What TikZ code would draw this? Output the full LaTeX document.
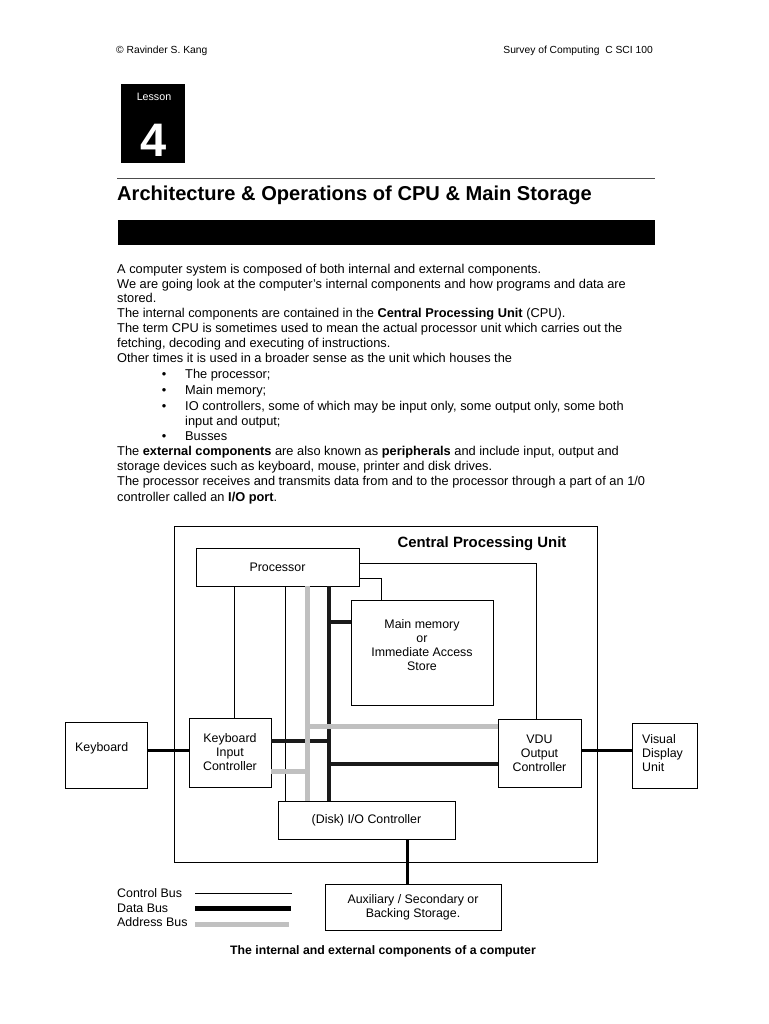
\documentclass[tikz,border=0pt]{standalone}
\usepackage{fontspec}
\setmainfont{Liberation Sans}
\definecolor{addrgray}{HTML}{C0C0C0}
\definecolor{databk}{HTML}{1A1A1A}
\newcommand\mydiagfont{\fontsize{12.4}{14}\selectfont}
\newcommand\mybodyfont{\fontsize{12.8}{14.5}\selectfont}
\tikzset{
  box/.style={draw, line width=0.8pt, inner sep=0pt, align=center, font=\mydiagfont},
  plain/.style={inner sep=0pt, font=\mydiagfont, align=center},
  ctrl/.style={line width=0.9pt},
  databus/.style={line width=4pt, draw=databk},
  addrbus/.style={line width=5pt, draw=addrgray},
  link/.style={line width=3pt},
  body/.style={anchor=base west, inner sep=0pt, font=\mybodyfont},
  bul/.style={anchor=base, inner sep=0pt, font=\mybodyfont},
  head/.style={inner sep=0pt, font=\fontsize{10.3}{12}\selectfont},
}
\begin{document}
\begin{tikzpicture}[x=1pt,y=-1pt]
\useasboundingbox (0,0) rectangle (768,1024);
\fill[white] (0,0) rectangle (768,1024);

% header
\node[head, anchor=base west] (author) at (116,54) {\textcopyright\ Ravinder S. Kang};
\node[head, anchor=base east] (course) at (653,54) {Survey of Computing \ C SCI 100};

% lesson box
\node[fill=black, minimum width=64pt, minimum height=79pt, inner sep=0pt] (lessonbox) at (153,123.5) {};
\node[inner sep=0pt, text=white, font=\fontsize{10.7}{12}\selectfont] (lesson) at (154,97) {Lesson};
\node[inner sep=0pt, text=white, font=\fontsize{47}{50}\selectfont\bfseries] (four) at (154,140) {4};

% rule and title
\coordinate (r1) at (117,179);
\coordinate (r2) at (655,179);
\draw[line width=1pt, draw=black!70] (r1) -- (r2);
\node[inner sep=0pt, anchor=base west, font=\fontsize{20.1}{24}\selectfont\bfseries] (title) at (117,201) {Architecture \& Operations of CPU \& Main Storage};
\node[fill=black, minimum width=537pt, minimum height=25pt, inner sep=0pt] (bar) at (386.5,232.5) {};

% body text
\node[body] (t1) at (117,273) {A computer system is composed of both internal and external components.};
\node[body] (t2) at (117,288) {We are going look at the computer's internal components and how programs and data are};
\node[body] (t3) at (117,302) {stored.};
\node[body] (t4) at (117,317) {The internal components are contained in the \textbf{Central Processing Unit} (CPU).};
\node[body] (t5) at (117,332) {The term CPU is sometimes used to mean the actual processor unit which carries out the};
\node[body] (t6) at (117,347) {fetching, decoding and executing of instructions.};
\node[body] (t7) at (117,362) {Other times it is used in a broader sense as the unit which houses the};
\node[bul] (b1) at (164,378) {•};
\node[body] (t8) at (185,378) {The processor;};
\node[bul] (b2) at (164,394) {•};
\node[body] (t9) at (185,394) {Main memory;};
\node[bul] (b3) at (164,410) {•};
\node[body] (t10) at (185,410) {IO controllers, some of which may be input only, some output only, some both};
\node[body] (t11) at (185,425) {input and output;};
\node[bul] (b4) at (164,440) {•};
\node[body] (t12) at (185,440) {Busses};
\node[body] (t13) at (117,455) {The \textbf{external components} are also known as \textbf{peripherals} and include input, output and};
\node[body] (t14) at (117,470) {storage devices such as keyboard, mouse, printer and disk drives.};
\node[body] (t15) at (117,485) {The processor receives and transmits data from and to the processor through a part of an 1/0};
\node[body] (t16) at (117,501) {controller called an \textbf{I/O port}.};

% diagram boxes
\node[box, minimum width=423pt, minimum height=336pt] (cpu) at (385.5,694) {};
\node[inner sep=0pt, font=\fontsize{14.9}{16}\selectfont\bfseries] (cputitle) at (482,544) {Central Processing Unit};
\node[box, minimum width=163pt, minimum height=38pt] (proc) at (277.5,567) {Processor};
\node[box, minimum width=142pt, minimum height=105pt] (mem) at (422,652.5) {};
\node[plain] (memtext) at (422,645) {Main memory\\or\\Immediate Access\\Store};
\node[box, minimum width=82pt, minimum height=66pt] (kbd) at (106,755) {};
\node[plain, anchor=west] (kbdtext) at (75,748) {Keyboard};
\node[box, minimum width=82pt, minimum height=69pt] (kic) at (230,752.5) {Keyboard\\Input\\Controller};
\node[box, minimum width=83pt, minimum height=68pt] (vdu) at (539.5,753) {VDU\\Output\\Controller};
\node[box, minimum width=65pt, minimum height=65pt] (vdisp) at (664.5,755.5) {};
\node[plain, anchor=west, align=left] (vdisptext) at (642,753.5) {Visual\\Display\\Unit};
\node[box, minimum width=177pt, minimum height=38pt] (disk) at (366.5,820) {(Disk) I/O Controller};
\node[box, minimum width=176pt, minimum height=46pt] (aux) at (413,907) {Auxiliary / Secondary or\\Backing Storage.};

% bus coordinates
\coordinate (xa) at (307.5,0);
\coordinate (xd) at (329,0);
\coordinate (xc1) at (234,0);
\coordinate (xc2) at (285,0);
\coordinate (xm) at (381,0);
\coordinate (xv) at (536,0);
\coordinate (xs) at (407,0);
\coordinate (yp1) at (0,563);
\coordinate (yp2) at (0,578);
\coordinate (ym) at (0,622);
\coordinate (ya1) at (0,726);
\coordinate (yd1) at (0,741);
\coordinate (yk) at (0,750);
\coordinate (yd2) at (0,764);
\coordinate (ya2) at (0,771);

% control lines
\draw[ctrl] (xc1 |- proc.south) -- (xc1 |- kic.north);
\draw[ctrl] (xc2 |- proc.south) -- (xc2 |- disk.north);
\draw[ctrl] (proc.east |- yp2) -| (xm |- mem.north);
\draw[ctrl] (proc.east |- yp1) -| (xv |- vdu.north);
% data lines
\draw[databus] (xd |- proc.south) -- (xd |- disk.north);
\draw[databus] (xd |- ym) -- (mem.west |- ym);
\draw[databus] (kic.east |- yd1) -- (xd |- yd1);
\draw[databus] (xd |- yd2) -- (vdu.west |- yd2);
% address lines
\draw[addrbus] (xa |- proc.south) -- (xa |- disk.north);
\draw[addrbus] (xa |- ya1) -- (vdu.west |- ya1);
\draw[addrbus] (kic.east |- ya2) -- (xa |- ya2);
% external links
\draw[link] (kbd.east |- yk) -- (kic.west |- yk);
\draw[link] (vdu.east |- yk) -- (vdisp.west |- yk);
\draw[link] (xs |- disk.south) -- (xs |- aux.north);

% legend
\node[body, font=\mydiagfont] (lc) at (117,897) {Control Bus};
\node[body, font=\mydiagfont] (ld) at (117,912) {Data Bus};
\node[body, font=\mydiagfont] (la) at (117,926) {Address Bus};
\coordinate (lc1) at (195,893); \coordinate (lc2) at (292,893);
\coordinate (ld1) at (195,908); \coordinate (ld2) at (291,908);
\coordinate (la1) at (195,924); \coordinate (la2) at (289,924);
\draw[ctrl] (lc1) -- (lc2);
\draw[databus, line width=5pt, draw=black] (ld1) -- (ld2);
\draw[addrbus] (la1) -- (la2);

% caption
\node[inner sep=0pt, font=\fontsize{12.25}{14}\selectfont\bfseries] (caption) at (383,951) {The internal and external components of a computer};
\end{tikzpicture}
\end{document}
